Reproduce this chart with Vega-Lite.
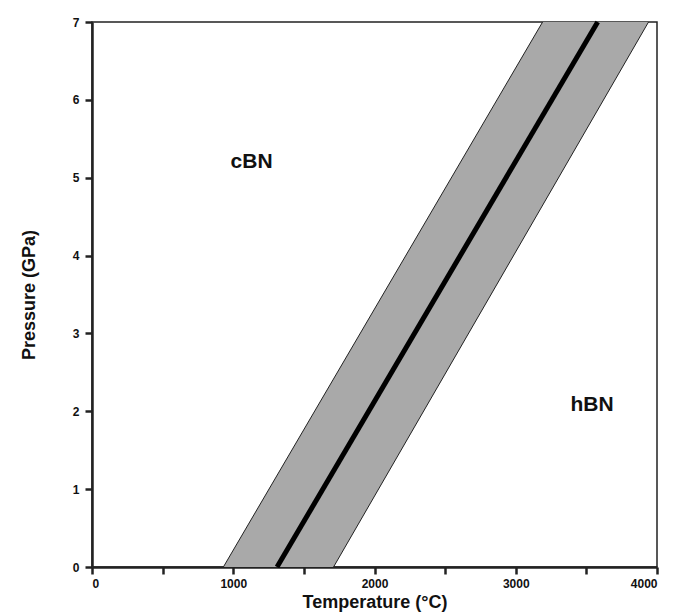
{
  "$schema": "https://vega.github.io/schema/vega-lite/v6.json",
  "width": 565,
  "height": 545,
  "autosize": {"type": "none"},
  "padding": {"left": 92, "top": 22, "right": 18, "bottom": 45},
  "background": "white",
  "config": {
    "view": {"stroke": "#222", "strokeWidth": 1.5},
    "font": "Liberation Sans",
    "axis": {
      "grid": false,
      "domainColor": "#222",
      "domainWidth": 2.5,
      "tickColor": "#222",
      "tickWidth": 2.5,
      "tickSize": 7,
      "ticks": true,
      "labelFont": "Liberation Sans",
      "labelFontWeight": "bold",
      "labelFontSize": 12,
      "labelColor": "#111",
      "titleFont": "Liberation Sans",
      "titleFontWeight": "bold",
      "titleFontSize": 18,
      "titleColor": "#111"
    }
  },
  "datasets": {
    "band": [
      {"P": 0, "lo": 930, "mid": 1310, "hi": 1710},
      {"P": 7, "lo": 3190, "mid": 3580, "hi": 3940}
    ],
    "labels": [
      {"T": 1130, "P": 5.2, "text": "cBN"},
      {"T": 3540, "P": 2.08, "text": "hBN"}
    ]
  },
  "layer": [
    {
      "data": {"name": "band"},
      "mark": {"type": "area", "orient": "horizontal", "color": "#a9a9a9", "clip": true},
      "encoding": {
        "y": {
          "field": "P", "type": "quantitative",
          "scale": {"domain": [0, 7], "nice": false},
          "axis": {
            "title": "Pressure (GPa)",
            "values": [0, 0.5, 1, 1.5, 2, 2.5, 3, 3.5, 4, 4.5, 5, 5.5, 6, 6.5, 7],
            "format": "d",
            "labelExpr": "datum.value % 1 === 0 ? datum.label : ''",
            "labelPadding": 6,
            "titlePadding": 34
          }
        },
        "x": {
          "field": "lo", "type": "quantitative",
          "scale": {"domain": [0, 4000], "nice": false},
          "axis": {
            "title": "Temperature (°C)",
            "values": [0, 500, 1000, 1500, 2000, 2500, 3000, 3500, 4000],
            "format": "d",
            "labelExpr": "datum.value % 1000 === 0 ? datum.label : ''",
            "labelPadding": 4,
            "titlePadding": 4
          }
        },
        "x2": {"field": "hi"}
      }
    },
    {
      "data": {"name": "band"},
      "mark": {"type": "line", "color": "#222", "strokeWidth": 1},
      "encoding": {
        "y": {"field": "P", "type": "quantitative"},
        "x": {"field": "lo", "type": "quantitative"}
      }
    },
    {
      "data": {"name": "band"},
      "mark": {"type": "line", "color": "#222", "strokeWidth": 1},
      "encoding": {
        "y": {"field": "P", "type": "quantitative"},
        "x": {"field": "hi", "type": "quantitative"}
      }
    },
    {
      "data": {"name": "band"},
      "mark": {"type": "line", "color": "#000", "strokeWidth": 5},
      "encoding": {
        "y": {"field": "P", "type": "quantitative"},
        "x": {"field": "mid", "type": "quantitative"}
      }
    },
    {
      "data": {"name": "labels"},
      "mark": {"type": "text", "fontSize": 21, "fontWeight": "bold", "font": "Liberation Sans", "color": "#111"},
      "encoding": {
        "x": {"field": "T", "type": "quantitative"},
        "y": {"field": "P", "type": "quantitative"},
        "text": {"field": "text"}
      }
    }
  ]
}
